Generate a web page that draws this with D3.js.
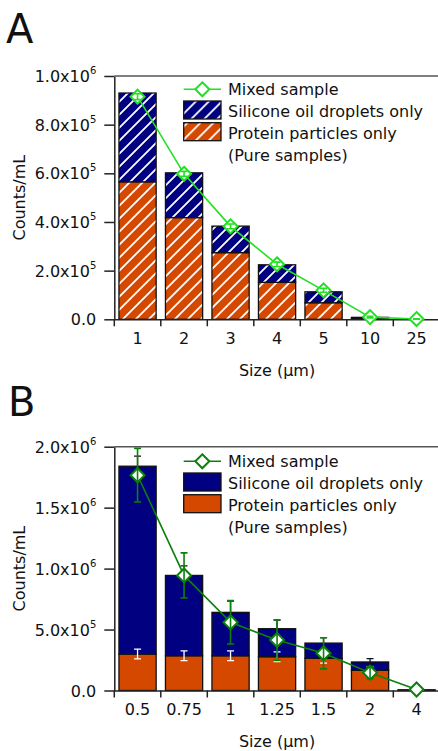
<!DOCTYPE html>
<html>
<head>
<meta charset="UTF-8">
<script src="https://cdn.jsdelivr.net/npm/d3@7"></script>
<style>
  * { margin: 0; padding: 0; }
  html, body { width: 438px; height: 751px; background: #fff; overflow: hidden; }
  svg { display: block; }
</style>
</head>
<body>
<script>
// --- data ---
var sizesA = ["1", "2", "3", "4", "5", "10", "25"];
var proteinA = [565000, 418000, 274000, 152000, 68000, 4000, 0];
var siliconeA = [365000, 184000, 109000, 72000, 45000, 4000, 0];
var mixedA = [915000, 598000, 382000, 226000, 119000, 9000, 1000];
var mixedErrA = [12000, 10000, 10000, 9000, 8000, 3000, 1000];
var yTicksA = [0, 200000, 400000, 600000, 800000, 1000000];

var sizesB = ["0.5", "0.75", "1", "1.25", "1.5", "2", "4"];
var proteinB = [299000, 285000, 285000, 277000, 264000, 166000, 0];
var siliconeB = [1541000, 659000, 356000, 230000, 125000, 68000, 6000];
var proteinErrB = [40000, 40000, 40000, 40000, 40000, 30000, 0];
var siliconeErrB = [82000, 79000, 92000, 70000, 45000, 27000, 0];
var mixedB = [1766000, 944000, 559000, 414000, 305000, 146000, 8000];
var mixedErrB = [220000, 185000, 178000, 167000, 128000, 50000, 0];
var yTicksB = [0, 500000, 1000000, 1500000, 2000000];

var legendLabels = ["Mixed sample", "Silicone oil droplets only", "Protein particles only", "(Pure samples)"];

var FONT = "'DejaVu Sans', Verdana, sans-serif";
var NAVY = "#000080", ORANGE = "#d54800";

var svg = d3.select("body").append("svg").attr("width", 438).attr("height", 751);
var defs = svg.append("defs");

function hatch(id, color) {
  var w = 13;
  var p = defs.append("pattern").attr("id", id)
    .attr("patternUnits", "userSpaceOnUse").attr("width", w).attr("height", w);
  p.append("rect").attr("width", w).attr("height", w).attr("fill", color);
  p.append("path").attr("d", "M-2,2L2,-2M0," + w + "L" + w + ",0M" + (w - 2) + "," + (w + 2) + "L" + (w + 2) + "," + (w - 2))
    .attr("stroke", "#fff").attr("stroke-width", 1.8);
}
hatch("hatchNavy", NAVY);
hatch("hatchOrange", ORANGE);

function fmtTick(v) {
  if (v === 0) return { m: "0.0", e: null };
  var e = Math.floor(Math.log10(v));
  return { m: (v / Math.pow(10, e)).toFixed(1) + "x10", e: String(e) };
}

function drawPanel(o) {
  var g = svg.append("g").attr("font-family", FONT).attr("fill", "#111");

  var x = d3.scaleBand().domain(o.sizes).range([114.3, 439.8])
    .paddingInner(0.2).paddingOuter(0.1);
  var y = d3.scaleLinear().domain([0, o.yMax]).range([o.bottom, o.top]);

  // panel letter
  g.append("text").attr("x", o.letterX).attr("y", o.letterY)
    .attr("font-size", 40).text(o.letter);

  // stacked bars
  var rows = o.sizes.map(function(s, i) {
    return { size: s, protein: o.protein[i], silicone: o.silicone[i] };
  });
  var stack = d3.stack().keys(["protein", "silicone"])(rows);
  var fills = o.hatched ? ["url(#hatchOrange)", "url(#hatchNavy)"] : [ORANGE, NAVY];

  stack.forEach(function(layer, li) {
    g.append("g").selectAll("rect").data(layer).enter().append("rect")
      .attr("x", function(d) { return x(d.data.size); })
      .attr("y", function(d) { return y(d[1]); })
      .attr("width", x.bandwidth())
      .attr("height", function(d) { return Math.max(0, y(d[0]) - y(d[1])); })
      .attr("fill", fills[li])
      .attr("stroke", "#111").attr("stroke-width", 1.3);
  });

  function errBars(vals, errs, color, width) {
    var eg = g.append("g").attr("stroke", color).attr("stroke-width", width).attr("fill", "none");
    o.sizes.forEach(function(s, i) {
      if (!errs[i]) return;
      var cx = x(s) + x.bandwidth() / 2;
      var y1 = y(vals[i] + errs[i]), y2 = y(vals[i] - errs[i]);
      eg.append("path").attr("d",
        "M" + cx + "," + y1 + "V" + y2 +
        "M" + (cx - 3.5) + "," + y1 + "H" + (cx + 3.5) +
        "M" + (cx - 3.5) + "," + y2 + "H" + (cx + 3.5));
    });
  }

  if (o.proteinErr) errBars(o.protein, o.proteinErr, "#fff", 1.3);
  if (o.siliconeErr) {
    var totals = o.protein.map(function(p, i) { return p + o.silicone[i]; });
    errBars(totals, o.siliconeErr, "#111", 1.3);
  }

  // axes
  var yAxis = d3.axisLeft(y).tickValues(o.yTicks).tickSize(10).tickSizeOuter(0).tickFormat("");
  var ya = g.append("g").attr("transform", "translate(114.3,0)").call(yAxis);
  ya.selectAll("path, line").attr("stroke", "#222").attr("stroke-width", 1.5);
  ya.selectAll(".tick").each(function(v) {
    var f = fmtTick(v);
    var t = d3.select(this).append("text")
      .attr("x", -18).attr("dy", "0.35em").attr("text-anchor", "end")
      .attr("fill", "#111").attr("font-size", 16).attr("font-family", FONT);
    t.append("tspan").text(f.m);
    if (f.e) t.append("tspan").attr("font-size", 10).attr("dy", -8).text(f.e);
  });

  var xAxis = d3.axisBottom(x).tickSize(0).tickSizeOuter(0).tickPadding(13.6);
  var xa = g.append("g").attr("transform", "translate(0," + o.bottom + ")").call(xAxis);
  xa.attr("font-family", FONT).attr("font-size", 16);
  xa.selectAll("text").attr("fill", "#111");
  xa.select(".domain").attr("stroke", "#222").attr("stroke-width", 1.5);

  // category boundary ticks
  var bounds = o.sizes.map(function(s) { return x(s) - x.step() * x.paddingOuter(); });
  g.append("g").selectAll("line").data(bounds).enter().append("line")
    .attr("x1", function(d) { return d; }).attr("x2", function(d) { return d; })
    .attr("y1", o.bottom).attr("y2", o.bottom + 7)
    .attr("stroke", "#222").attr("stroke-width", 1.5);

  // top frame
  g.append("line").attr("x1", x.range()[0]).attr("x2", x.range()[1])
    .attr("y1", o.top).attr("y2", o.top).attr("stroke", "#555").attr("stroke-width", 1.5);

  // axis titles
  g.append("text").attr("transform", "translate(25," + ((o.top + o.bottom) / 2) + ") rotate(-90)")
    .attr("text-anchor", "middle").attr("font-size", 16).text("Counts/mL");
  g.append("text").attr("x", (x.range()[0] + x.range()[1]) / 2).attr("y", o.bottom + 56.5)
    .attr("text-anchor", "middle").attr("font-size", 16).text("Size (\u00b5m)");

  // mixed sample line
  var pts = o.sizes.map(function(s, i) {
    return [x(s) + x.bandwidth() / 2, y(o.mixed[i])];
  });
  g.append("path").attr("d", d3.line()(pts)).attr("fill", "none")
    .attr("stroke", o.green).attr("stroke-width", 1.6);
  var diamond = d3.symbol().type(d3.symbolDiamond2).size(125);
  g.append("g").selectAll("path").data(pts).enter().append("path")
    .attr("d", diamond)
    .attr("transform", function(d) { return "translate(" + d[0] + "," + d[1] + ")"; })
    .attr("fill", "#fff").attr("stroke", o.green).attr("stroke-width", 2);
  errBars(o.mixed, o.mixedErr, o.green, 1.6);

  // legend
  var lg = g.append("g").attr("transform", "translate(0," + o.legendY + ")");
  lg.append("line").attr("x1", 183.7).attr("x2", 221).attr("y1", 0).attr("y2", 0)
    .attr("stroke", o.green).attr("stroke-width", 1.6);
  lg.append("path").attr("d", diamond)
    .attr("transform", "translate(202.3,0)")
    .attr("fill", "#fff").attr("stroke", o.green).attr("stroke-width", 2);
  lg.append("rect").attr("x", 183.7).attr("y", 11.7).attr("width", 37.3).attr("height", 18)
    .attr("fill", fills[1]).attr("stroke", "#111").attr("stroke-width", 1.3);
  lg.append("rect").attr("x", 183.7).attr("y", 33.4).attr("width", 37.3).attr("height", 18)
    .attr("fill", fills[0]).attr("stroke", "#111").attr("stroke-width", 1.3);
  lg.selectAll("text.lab").data(legendLabels).enter().append("text")
    .attr("class", "lab")
    .attr("x", 228).attr("y", function(d, i) { return 5.8 + i * 22; })
    .attr("font-size", 16).text(function(d) { return d; });
}

drawPanel({
  letter: "A", letterX: 6, letterY: 42.7,
  sizes: sizesA, protein: proteinA, silicone: siliconeA,
  mixed: mixedA, mixedErr: mixedErrA,
  yMax: 1000000, yTicks: yTicksA, top: 76, bottom: 319.3,
  hatched: true, green: "#22e022", legendY: 89.3
});

drawPanel({
  letter: "B", letterX: 8, letterY: 416,
  sizes: sizesB, protein: proteinB, silicone: siliconeB,
  proteinErr: proteinErrB, siliconeErr: siliconeErrB,
  mixed: mixedB, mixedErr: mixedErrB,
  yMax: 2000000, yTicks: yTicksB, top: 446.7, bottom: 690.5,
  hatched: false, green: "#0b800b", legendY: 461.3
});
</script>
</body>
</html>
